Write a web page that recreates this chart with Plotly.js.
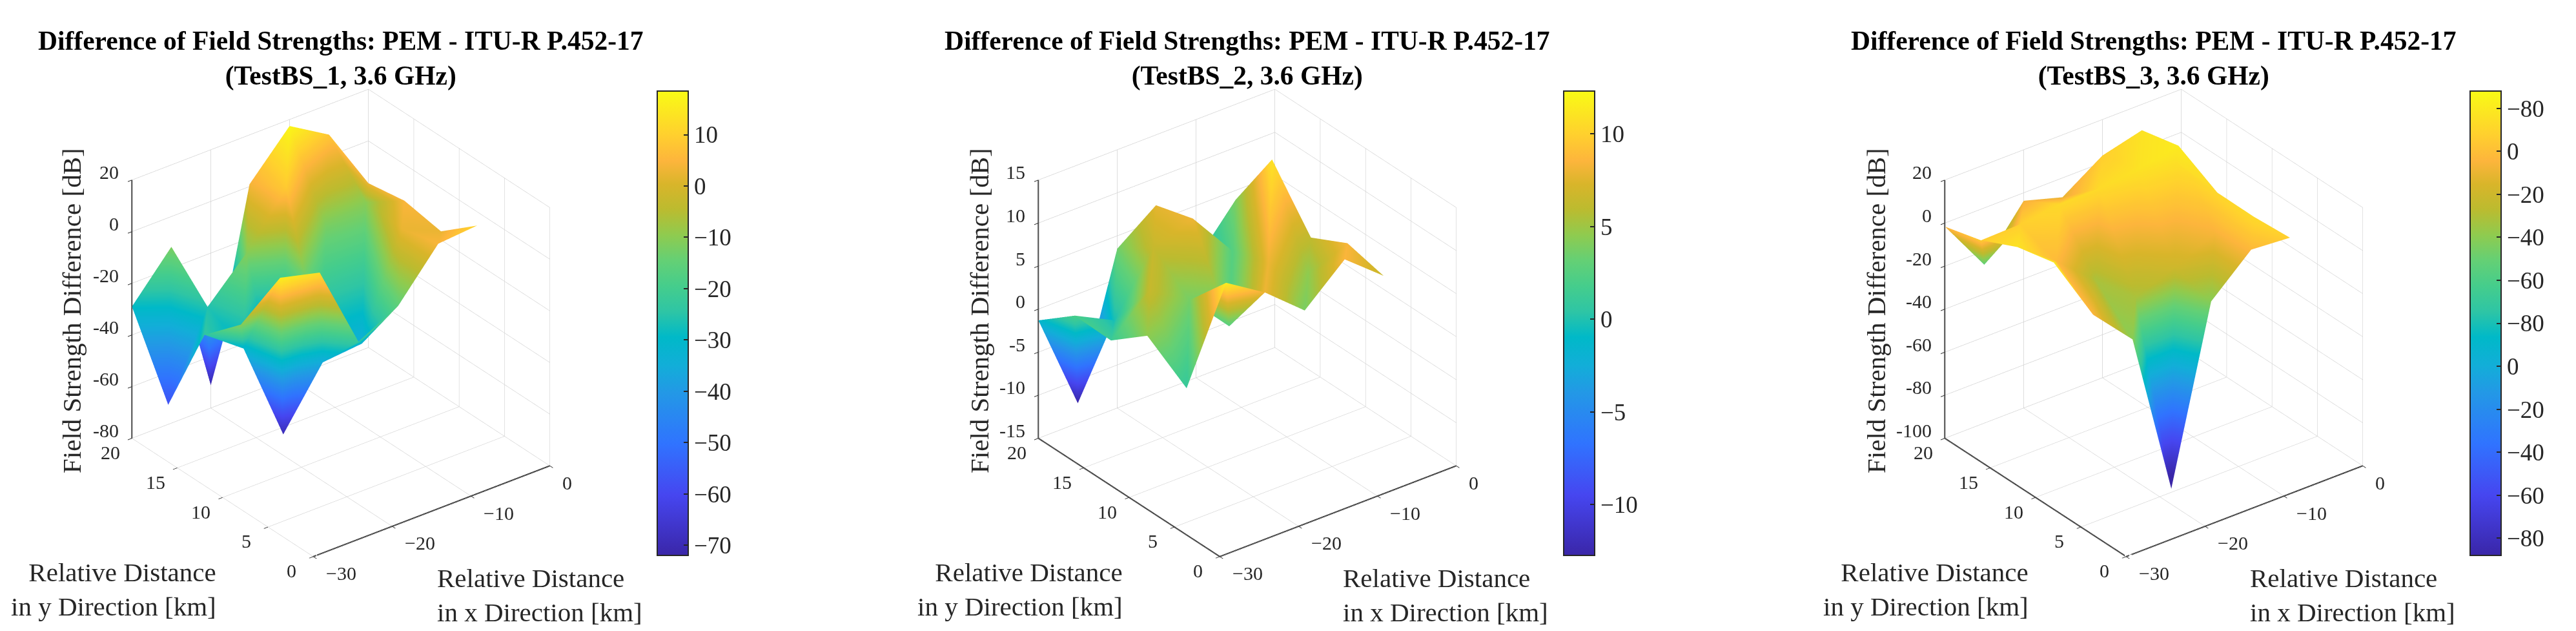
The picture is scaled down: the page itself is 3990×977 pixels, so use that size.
<!DOCTYPE html>
<html>
<head>
<meta charset="utf-8">
<script src="https://cdn.plot.ly/plotly-3.0.1.min.js"></script>
<style>html,body{margin:0;padding:0;background:#fff}#chart{width:3990px;height:977px}</style>
</head>
<body>
<div id="chart"></div>
<script>
// measurement points are shared by the three base stations (rows: far to near)
var xGrid = [
  [-30, -25, -20, -16, -10, -5, -6.1],
  [-30, -25, -20, -15, -10, -4.5, -5.9],
  [-29.3, -25.5, -20.7, -19.6, -14.4, -8.9, -6.1],
  [-29.3, -28.8, -23.9, -18.3, -12.9, -8.4, -5.2]
];
var yGrid = [
  [20, 20, 20, 19.2, 20, 20, 14.7],
  [16, 16, 16, 16, 16, 16.4, 10.9],
  [12.6, 11.6, 11.4, 8, 8.2, 8.6, 6.7],
  [8.6, 4.7, 4.6, 5.2, 5.5, 5, 3.5]
];

var z1 = [
  [-29, -11.7, -71.2, 3.8, 17.5, 8.3, 2.9],
  [-57.9, -25.8, -10.5, 8.9, -12.1, -10.4, 4.6],
  [-23.8, -31.3, -69.7, -35.3, -34.6, 2.5, 2.6],
  [-10.7, 15.8, 12.3, -22.4, -15.5, 4.4, 11.1]
];
var z2 = [
  [-1.3, -12.7, 3.5, 7.7, -1.4, 3.9, 6.8],
  [2, -0.3, 6.4, 8, 2.5, 10.9, 6.1],
  [1.2, 6.4, 3.7, 2.6, 8, 4.5, 8.4],
  [4.5, 0.9, 11.5, 8, 3.8, 8.5, 6.5]
];
var z3 = [
  [-1.6, -26.4, -3.7, -5.5, 3.3, 8, 7.4],
  [3, 3.5, 5.7, 6, 8, 10, 5.3],
  [8.2, -1, -16, -16, -10, -3, 5.9],
  [12, -2.2, -20.3, -99.2, -20.6, -1.5, 3.7]
];

var stationNames = ['TestBS_1', 'TestBS_2', 'TestBS_3'];
var colorLimits = [[-72, 18.5], [-12.74, 12.3], [-94, 14]];

var xTicks = [-30, -20, -10, 0];
var xTickText = ['\u221230', '\u221220', '\u221210', '0'];
var yTicks = [0, 5, 10, 15, 20];
var zRanges = [[-80, 20], [-15, 15], [-100, 20]];
var zTicks = [
  [-80, -60, -40, -20, 0, 20],
  [-15, -10, -5, 0, 5, 10, 15],
  [-100, -80, -60, -40, -20, 0, 20]
];

var cbarTicks = [
  [10, 0, -10, -20, -30, -40, -50, -60, -70],
  [10, 5, 0, -5, -10],
  [10, 0, -10, -20, -30, -40, -50, -60, -70, -80, -90]
];
var cbarText = [
  ['10', '0', '\u221210', '\u221220', '\u221230', '\u221240', '\u221250', '\u221260', '\u221270'],
  ['10', '5', '0', '\u22125', '\u221210'],
  ['\u221280', '0', '\u221220', '\u221240', '\u221260', '\u221280', '0', '\u221220', '\u221240', '\u221260', '\u221280']
];

var colorStops = [
  [0, '#3a26a8'], [0.13, '#4646f0'], [0.24, '#3073ff'], [0.35, '#2398e6'],
  [0.41, '#12aed8'], [0.47, '#00b9c8'], [0.525, '#2ec5a5'], [0.58, '#45cd8c'],
  [0.635, '#64d075'], [0.69, '#8fcb4f'], [0.746, '#bcbb2f'], [0.8, '#d9b52a'],
  [0.85, '#fdb53c'], [0.906, '#ffd02e'], [1, '#f9fb15']
];

// pixel anchors of each panel in the 3990x977 picture
var W = 3990, H = 977;
var boxCenter = [527.5, 1931.5, 3335.5];
var cbarLeft = [1018, 2422, 3826];
var zTitleX = [111, 1517, 2906];
var yTitleRight = [337, 1741, 3144];
var xTitleLeft = [675, 2078, 3483];

var SERIF = '"Liberation Serif", "Times New Roman", serif';
var INK = '#262626';
var EYE_DIST = 2.0;
var BOX_SCALE = 0.968; // the orthographic view ignores eye distance, the box size sets the scale

function flatten(rows) {
  return rows.reduce(function (all, row) { return all.concat(row); }, []);
}

// two triangles per grid cell, split along the falling diagonal like the original renderer
function gridTriangles(rows, cols) {
  var tri = { i: [], j: [], k: [] };
  for (var r = 0; r < rows - 1; r++) {
    for (var c = 0; c < cols - 1; c++) {
      var a = r * cols + c, b = a + 1, d = a + cols, e = d + 1;
      tri.i.push(a, b);
      tri.j.push(b, e);
      tri.k.push(d, d);
    }
  }
  return tri;
}

function axisBase() {
  return {
    title: { text: '' },
    showgrid: true, gridcolor: '#d2d2d2', gridwidth: 1.5,
    showline: false,
    ticks: 'outside', ticklen: 8, tickcolor: INK, tickwidth: 2,
    showticklabels: false,
    showbackground: false, showspikes: false, zeroline: false, tickmode: 'array'
  };
}

// tick labels as text pinned to the box edges, they stay flat unlike the scene's own
function tickNotes(i) {
  var base = { showarrow: false, font: { family: SERIF, size: 30, color: INK } };
  var zMin = zRanges[i][0];
  var out = [];
  zTicks[i].forEach(function (v) {
    out.push(Object.assign({}, base, { x: -30, y: 20, z: v, text: String(v), xanchor: 'right', xshift: -18, yshift: 12 }));
  });
  yTicks.forEach(function (v) {
    out.push(Object.assign({}, base, { x: -30, y: v, z: zMin, text: String(v), xanchor: 'center', xshift: -33, yshift: -22 }));
  });
  xTicks.forEach(function (v, n) {
    out.push(Object.assign({}, base, { x: v, y: 0, z: zMin, text: xTickText[n], xanchor: 'left', xshift: 18, yshift: -26 }));
  });
  return out;
}

function sceneLayout(i) {
  var half = 520;
  var xa = axisBase(); xa.range = [-30, 0]; xa.tickvals = xTicks; xa.ticktext = xTickText;
  var ya = axisBase(); ya.range = [0, 20]; ya.tickvals = yTicks; ya.ticktext = yTicks.map(String);
  var za = axisBase(); za.range = zRanges[i]; za.tickvals = zTicks[i]; za.ticktext = zTicks[i].map(String);
  return {
    domain: {
      x: [(boxCenter[i] - half) / W, (boxCenter[i] + half) / W],
      y: [0, 954 / H]
    },
    aspectmode: 'manual',
    aspectratio: { x: BOX_SCALE, y: BOX_SCALE, z: BOX_SCALE },
    xaxis: xa, yaxis: ya, zaxis: za,
    annotations: tickNotes(i),
    camera: {
      projection: { type: 'orthographic' },
      eye: { x: -0.527 * EYE_DIST, y: -0.687 * EYE_DIST, z: 0.5 * EYE_DIST },
      center: { x: 0, y: 0, z: 0 },
      up: { x: 0, y: 0, z: 1 }
    }
  };
}

var zData = [z1, z2, z3];
var traces = [];
var layout = {
  width: W, height: H,
  margin: { l: 0, r: 0, t: 0, b: 0 },
  paper_bgcolor: '#fff',
  showlegend: false,
  font: { family: SERIF, color: INK },
  annotations: []
};

function note(text, px, py, opts) {
  var a = {
    text: text, xref: 'paper', yref: 'paper',
    x: px / W, y: 1 - py / H, xanchor: 'center', yanchor: 'middle',
    showarrow: false, font: { family: SERIF, size: 41, color: INK }
  };
  for (var k in opts) a[k] = opts[k];
  layout.annotations.push(a);
}

var tri = gridTriangles(xGrid.length, xGrid[0].length);

stationNames.forEach(function (name, n) {
  var sceneId = n === 0 ? 'scene' : 'scene' + (n + 1);
  var zFlat = flatten(zData[n]);
  var zLo = zRanges[n][0], zHi = zRanges[n][1];
  traces.push({
    type: 'mesh3d',
    x: flatten(xGrid), y: flatten(yGrid), z: zFlat,
    i: tri.i, j: tri.j, k: tri.k,
    intensity: zFlat,
    scene: sceneId,
    colorscale: colorStops,
    cmin: colorLimits[n][0], cmax: colorLimits[n][1],
    lighting: { ambient: 1, diffuse: 0, specular: 0, roughness: 1, fresnel: 0 },
    hoverinfo: 'skip',
    colorbar: {
      x: cbarLeft[n] / W, xanchor: 'left', xpad: 0,
      y: 1 - 141 / H, yanchor: 'top', ypad: 0,
      len: 719 / H, lenmode: 'fraction',
      thickness: 48, thicknessmode: 'pixels',
      outlinecolor: INK, outlinewidth: 2,
      ticks: 'inside', ticklen: 8, tickcolor: INK, tickwidth: 2,
      tickmode: 'array', tickvals: cbarTicks[n], ticktext: cbarText[n],
      tickprefix: '\u2002\u2009',
      tickfont: { family: SERIF, size: 37, color: INK }
    }
  });
  // gl axis lines stay one pixel wide, so the three dark box edges are a line trace
  traces.push({
    type: 'scatter3d', mode: 'lines',
    x: [-30, -30, -30, 0],
    y: [20, 20, 0, 0],
    z: [zHi, zLo, zLo, zLo],
    line: { color: '#2a2a2a', width: 4 },
    scene: sceneId,
    hoverinfo: 'skip'
  });
  layout[sceneId] = sceneLayout(n);

  note('<b>Difference of Field Strengths: PEM - ITU-R P.452-17<br>(' + name + ', 3.6 GHz)</b>',
    boxCenter[n], 90, { font: { family: SERIF, size: 41.5, color: '#000' } });
  note('Field Strength Difference [dB]', zTitleX[n], 481, { textangle: -90 });
  note('Relative Distance<br>in y Direction [km]', yTitleRight[n], 912, { xanchor: 'right', align: 'right' });
  note('Relative Distance<br>in x Direction [km]', xTitleLeft[n], 921, { xanchor: 'left', align: 'left' });
});

Plotly.newPlot('chart', traces, layout, { displayModeBar: false });
</script>
</body>
</html>
